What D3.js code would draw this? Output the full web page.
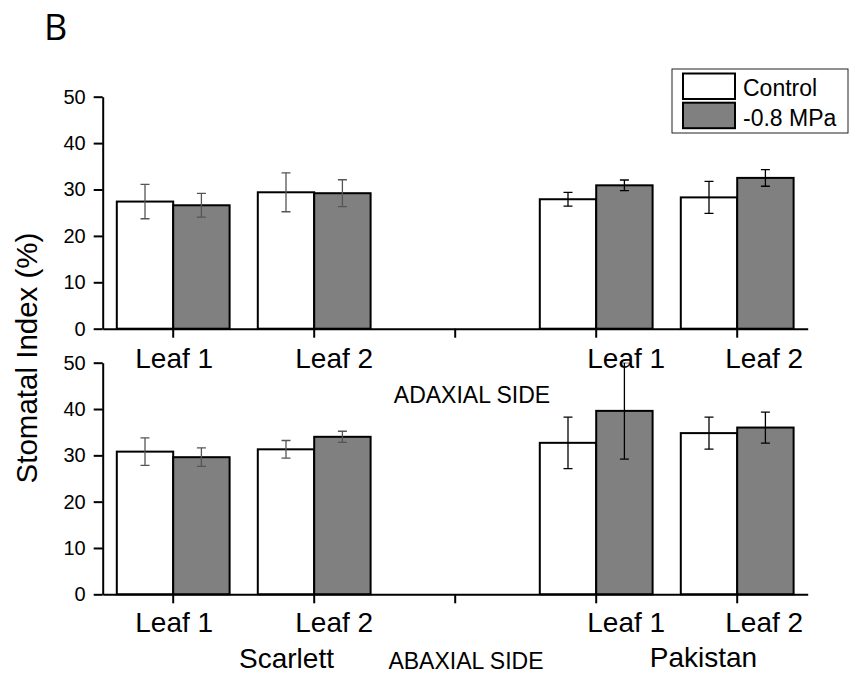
<!DOCTYPE html>
<html>
<head>
<meta charset="utf-8">
<script src="https://cdn.jsdelivr.net/npm/d3@7"></script>
<style>
  html, body { margin: 0; padding: 0; background: #fff; }
  svg text { font-family: "Liberation Sans", Arial, sans-serif; fill: #000; }
</style>
</head>
<body>
<svg id="chart" width="849" height="673"></svg>
<script>
// Category slots along the x axis (the middle slot is an empty spacer between varieties)
const slots = ["Scarlett L1", "Scarlett L2", "gap", "Pakistan L1", "Pakistan L2"];
const barSlots = ["Scarlett L1", "Scarlett L2", "Pakistan L1", "Pakistan L2"];
const tickLabels = ["Leaf 1", "Leaf 2", "Leaf 1", "Leaf 2"];
const treatments = ["Control", "-0.8 MPa"];
const yTicks = [0, 10, 20, 30, 40, 50];

// Stomatal index (%) – upper panel (adaxial side)
const adaxialControl = [27.4, 29.4, 27.9, 28.3];
const adaxialControlErr = [3.7, 4.2, 1.5, 3.45];
const adaxialStress = [26.6, 29.2, 30.9, 32.5];
const adaxialStressErr = [2.55, 2.9, 1.15, 1.8];

// Stomatal index (%) – lower panel (abaxial side)
const abaxialControl = [30.8, 31.3, 32.7, 34.8];
const abaxialControlErr = [2.95, 1.9, 5.55, 3.45];
const abaxialStress = [29.6, 34.0, 39.6, 36.0];
const abaxialStressErr = [2.0, 1.2, 10.4, 3.35];

const svg = d3.select("#chart");

const fills = { "Control": "#ffffff", "-0.8 MPa": "#808080" };
const errColor = { "Scarlett": "#555555", "Pakistan": "#000000" };
// horizontal nudges of the leaf labels relative to their tick
const labelShift = [1, 20, 30, 27];

const x = d3.scaleBand().domain(slots).range([102.7, 807.7]).padding(0);
const xi = d3.scaleBand().domain(treatments)
  .range([x.bandwidth() * 0.1, x.bandwidth() * 0.9]).padding(0);

function rows(ctrl, ctrlErr, stress, stressErr) {
  const out = [];
  barSlots.forEach((s, i) => {
    out.push({ slot: s, t: "Control", v: ctrl[i], e: ctrlErr[i] });
    out.push({ slot: s, t: "-0.8 MPa", v: stress[i], e: stressErr[i] });
  });
  return out;
}

function panel(id, yBottom, yTop, data, labelBaseline) {
  const y = d3.scaleLinear().domain([0, 50]).range([yBottom, yTop]);
  const g = svg.append("g").attr("id", id);

  const clipId = id + "-clip";
  svg.append("clipPath").attr("id", clipId)
    .append("rect").attr("x", x.range()[0]).attr("y", yTop)
    .attr("width", x.range()[1] - x.range()[0]).attr("height", yBottom - yTop);

  // bars
  g.selectAll("rect.bar").data(data).join("rect")
    .attr("class", "bar")
    .attr("x", d => x(d.slot) + xi(d.t))
    .attr("y", d => y(d.v))
    .attr("width", xi.bandwidth())
    .attr("height", d => y(0) - y(d.v))
    .attr("fill", d => fills[d.t])
    .attr("stroke", "#000")
    .attr("stroke-width", 2);

  // error bars
  const eg = g.append("g").attr("clip-path", `url(#${clipId})`);
  const cap = 4.5;
  data.forEach(d => {
    const cx = x(d.slot) + xi(d.t) + xi.bandwidth() / 2;
    const col = errColor[d.slot.split(" ")[0]];
    const hi = y(d.v + d.e), lo = y(d.v - d.e);
    eg.append("line").attr("x1", cx).attr("x2", cx).attr("y1", hi).attr("y2", lo)
      .attr("stroke", col).attr("stroke-width", 1.3);
    [hi, lo].forEach(yy => eg.append("line")
      .attr("x1", cx - cap).attr("x2", cx + cap).attr("y1", yy).attr("y2", yy)
      .attr("stroke", col).attr("stroke-width", 1.3));
  });

  // axes
  const yAxis = g.append("g").attr("transform", `translate(${x.range()[0]},0)`)
    .call(d3.axisLeft(y).tickValues(yTicks).tickSize(9).tickSizeOuter(0).tickPadding(8));
  const xAxis = g.append("g").attr("transform", `translate(0,${yBottom})`)
    .call(d3.axisBottom(x).tickFormat("").tickSize(9).tickSizeOuter(0));
  [yAxis, xAxis].forEach(a => {
    a.select(".domain").attr("stroke", "#000").attr("stroke-width", 2);
    a.selectAll(".tick line").attr("stroke", "#000").attr("stroke-width", 2);
  });
  yAxis.selectAll(".tick text").style("font-size", "20px")
    .style("font-family", "Liberation Sans, Arial, sans-serif");

  // leaf labels
  g.selectAll("text.leaf").data(barSlots).join("text")
    .attr("class", "leaf")
    .attr("x", (s, i) => x(s) + x.bandwidth() / 2 + labelShift[i])
    .attr("y", labelBaseline)
    .attr("text-anchor", "middle")
    .style("font-size", "28px")
    .text((s, i) => tickLabels[i]);
}

panel("adaxial", 328.7, 96.7,
  rows(adaxialControl, adaxialControlErr, adaxialStress, adaxialStressErr), 368);
panel("abaxial", 594.3, 362.7,
  rows(abaxialControl, abaxialControlErr, abaxialStress, abaxialStressErr), 632);

// side and variety captions
svg.append("text").attr("x", 472).attr("y", 403).attr("text-anchor", "middle")
  .style("font-size", "23px").text("ADAXIAL SIDE");
svg.append("text").attr("x", 466).attr("y", 669).attr("text-anchor", "middle")
  .style("font-size", "23px").text("ABAXIAL SIDE");
svg.append("text").attr("x", 286.5).attr("y", 668).attr("text-anchor", "middle")
  .style("font-size", "28px").text("Scarlett");
svg.append("text").attr("x", 703.5).attr("y", 667).attr("text-anchor", "middle")
  .style("font-size", "28px").text("Pakistan");

// y axis title
svg.append("text")
  .attr("transform", "translate(37,358) rotate(-90)")
  .attr("text-anchor", "middle")
  .style("font-size", "29.5px")
  .text("Stomatal Index (%)");

// panel letter
svg.append("text").attr("x", 44).attr("y", 40)
  .style("font-family", "'Open Sans', sans-serif").style("font-size", "36px")
  .text("B");

// legend
const lg = svg.append("g");
lg.append("rect").attr("x", 672).attr("y", 69).attr("width", 176).attr("height", 64)
  .attr("fill", "#fff").attr("stroke", "#222").attr("stroke-width", 1);
treatments.forEach((t, i) => {
  lg.append("rect").attr("x", 683).attr("y", 73.5 + i * 29.2)
    .attr("width", 52).attr("height", 25.5)
    .attr("fill", fills[t]).attr("stroke", "#000").attr("stroke-width", 2);
  lg.append("text").attr("x", 743).attr("y", 96 + i * 29.5)
    .style("font-size", "23px").text(t);
});
</script>
